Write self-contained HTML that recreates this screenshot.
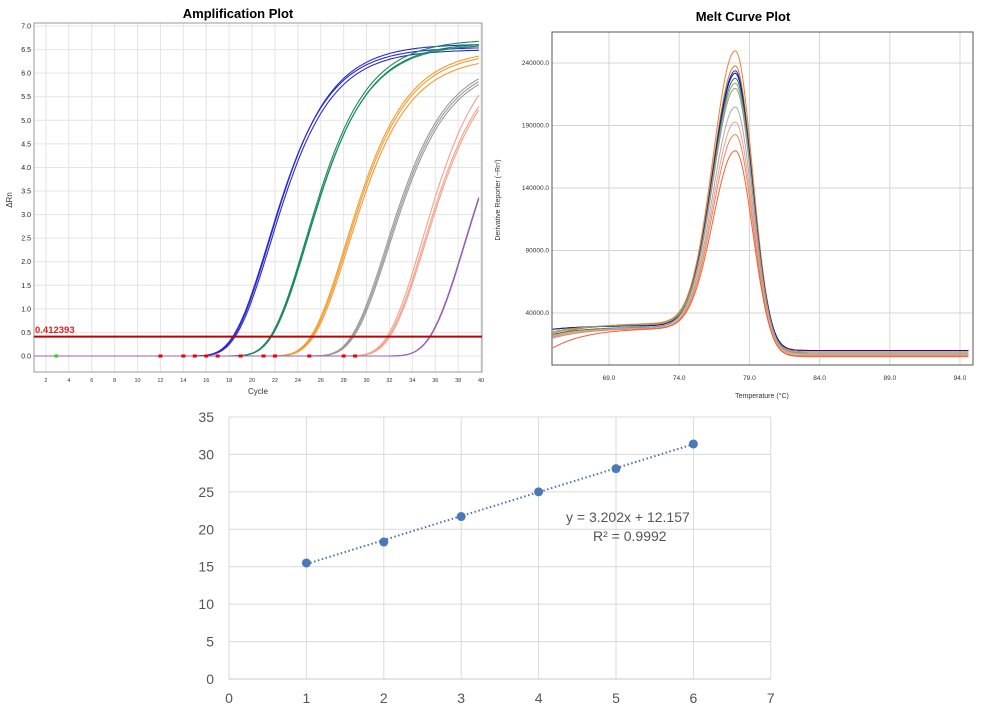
<!DOCTYPE html>
<html><head><meta charset="utf-8"><style>
body{margin:0;background:#fff;width:985px;height:716px;overflow:hidden;font-family:"Liberation Sans",sans-serif}
svg text{font-family:"Liberation Sans",sans-serif}
</style></head><body>
<svg id="s" width="985" height="716" xmlns="http://www.w3.org/2000/svg">
<rect width="985" height="716" fill="#fff"/>
<text x="238" y="18" text-anchor="middle" font-size="13" font-weight="bold">Amplification Plot</text>
<text x="743" y="21" text-anchor="middle" font-size="13" font-weight="bold">Melt Curve Plot</text>
<g id="amp"></g><g id="melt"></g><g id="std"></g>
</svg>
<script>
const NS="http://www.w3.org/2000/svg";
function el(p,t,a,txt){const e=document.createElementNS(NS,t);for(const k in a)e.setAttribute(k,a[k]);if(txt!==undefined)e.textContent=txt;p.appendChild(e);return e;}
// Amplification
const A=document.getElementById('amp');
const ax=c=>34.5+(c-1)*11.45, ay=v=>356-v*47.14;
for(let c=2;c<=40;c+=2){el(A,'line',{x1:ax(c),x2:ax(c),y1:23,y2:372,stroke:'#e4e4e4','stroke-width':1});el(A,'text',{x:ax(c),y:382,'font-size':5.5,'text-anchor':'middle',fill:'#333'},c);}
for(let v=0;v<=7;v+=0.5){el(A,'line',{x1:34,x2:482,y1:ay(v),y2:ay(v),stroke:'#e4e4e4'});el(A,'text',{x:31,y:ay(v)+2.5,'font-size':7,'text-anchor':'end',fill:'#222'},v.toFixed(1));}
el(A,'rect',{x:34,y:23,width:448,height:349,fill:'none',stroke:'#999'});
el(A,'text',{x:258,y:394,'font-size':8,'text-anchor':'middle',fill:'#333'},'Cycle');
el(A,'text',{x:12,y:200,'font-size':8,'text-anchor':'middle',fill:'#333',transform:'rotate(-90 12 200)'},'ΔRn');
const groups=[['#2a2ad0',[[21.4,6.55],[21.5,6.62],[21.6,6.5]]],['#1a8a5a',[[24.7,6.72],[24.8,6.65],[24.75,6.62]]],['#f39a30',[[28.2,6.5],[28.3,6.45],[28.4,6.35]]],['#9a9a9a',[[31.7,6.3],[31.8,6.25],[31.9,6.2]]],['#f4a08a',[[34.9,6.75],[35.0,6.5],[35.1,6.45]]],['#9a60b0',[[38.6,6.6],[38.65,6.6]]]];
groups.forEach(([col,cs])=>cs.forEach(([ci,F])=>{let d='';for(let c=1;c<=40;c+=0.2){const v=F*Math.exp(-Math.exp(-0.33*(c-ci)));d+=(d?'L':'M')+ax(c).toFixed(1)+','+ay(v).toFixed(1);}el(A,'path',{d,fill:'none',stroke:col,'stroke-width':1.1});}));
el(A,'line',{x1:34,x2:482,y1:ay(0.412),y2:ay(0.412),stroke:'#c00000','stroke-width':2});
el(A,'text',{x:35,y:333,'font-size':9.5,fill:'#e02020','font-weight':'bold','font-family':'Liberation Serif'},'0.412393');
[12,14,15,16,17,19,21,22,25,28,29].forEach(c=>el(A,'rect',{x:ax(c)-2,y:354.5,width:4,height:3,fill:'#e00'}));
el(A,'rect',{x:ax(2.9)-2,y:354.5,width:4,height:3,fill:'#3c3'});
// Melt
const M=document.getElementById('melt');
const mx=t=>609+(t-69)*14.04, my=v=>313-(v-40000)/50000*62.5;
[69,74,79,84,89,94].forEach(t=>{el(M,'line',{x1:mx(t),x2:mx(t),y1:32,y2:365,stroke:'#d4d4d4'});el(M,'text',{x:mx(t),y:380,'font-size':6.5,'text-anchor':'middle',fill:'#333'},t.toFixed(1));});
[40000,90000,140000,190000,240000].forEach(v=>{el(M,'line',{x1:552,x2:973,y1:my(v),y2:my(v),stroke:'#d4d4d4'});el(M,'text',{x:549,y:my(v)+2,'font-size':6.5,'text-anchor':'end',fill:'#333'},v.toFixed(1));});
el(M,'text',{x:762,y:398,'font-size':7,'text-anchor':'middle',fill:'#333'},'Temperature (°C)');
el(M,'text',{x:500,y:200,'font-size':7,'text-anchor':'middle',fill:'#333',transform:'rotate(-90 500 200)'},'Derivative Reporter (−Rn′)');
const mc=[['#e8803a',250000,24000,31000,9000],['#d08020',238000,22000,32000,8000],['#2a2ad0',234000,27000,30000,10000],['#1010a0',232000,27000,30000,10000],['#1a8a5a',228000,23000,29000,8000],['#a0a060',224000,25000,31000,8000],['#999',220000,21000,29000,7000],['#aaa',205000,20000,28000,7000],['#f4a08a',193000,22000,28000,6000],['#f08060',183000,20000,28000,5000],['#f06030',170000,12000,28000,5500]];
mc.forEach(([col,pk,b0,b1,tail])=>{let d='';for(let t=65;t<=94.6;t+=0.1){const base=b0+(b1-b0)*(1-Math.exp(-(t-65)/2.5));const cut=1/(1+Math.exp((t-80.2)/0.45));const s=t<78?1.6:1.15;const g=(pk-b1)*Math.exp(-Math.pow(t-78,2)/(2*s*s));const v=base*cut+tail*(1-cut)+g;d+=(d?'L':'M')+mx(t).toFixed(1)+','+my(v).toFixed(1);}el(M,'path',{d,fill:'none',stroke:col,'stroke-width':1});});
el(M,'rect',{x:552,y:32,width:421,height:333,fill:'none',stroke:'#555'});
// Standard curve
const S=document.getElementById('std');
const sx=v=>229+v*77.4, sy=v=>679-v*7.486;
for(let i=0;i<=7;i++){el(S,'line',{x1:sx(i),x2:sx(i),y1:417,y2:679,stroke:'#dadada'});el(S,'text',{x:sx(i),y:703,'font-size':14,'text-anchor':'middle',fill:'#555'},i);}
for(let v=0;v<=35;v+=5){el(S,'line',{x1:229,x2:771,y1:sy(v),y2:sy(v),stroke:'#dadada'});el(S,'text',{x:214,y:sy(v)+5,'font-size':14,'text-anchor':'end',fill:'#555'},v);}
el(S,'line',{x1:229,x2:771,y1:679,y2:679,stroke:'#c8c8c8'});
el(S,'line',{x1:sx(1),y1:sy(15.359),x2:sx(6),y2:sy(31.369),stroke:'#4a72b0','stroke-width':2,'stroke-dasharray':'1.5 2.5'});
[[1,15.5],[2,18.3],[3,21.7],[4,25],[5,28.1],[6,31.4]].forEach(([x,y])=>el(S,'circle',{cx:sx(x),cy:sy(y),r:4.5,fill:'#4a78b8'}));
el(S,'text',{x:566,y:522,'font-size':14,fill:'#555'},'y = 3.202x + 12.157');
el(S,'text',{x:593,y:541,'font-size':14,fill:'#555'},'R² = 0.9992');
</script>
</body></html>
